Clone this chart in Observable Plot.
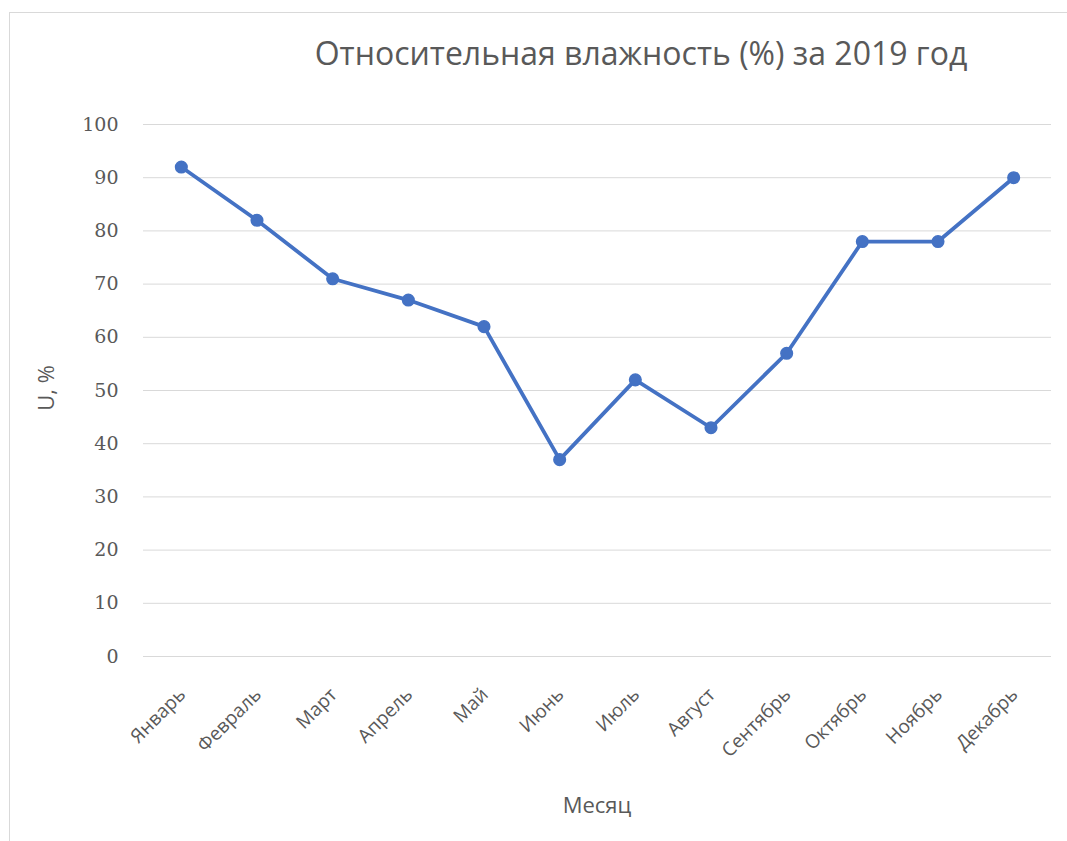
<!DOCTYPE html>
<html>
<head>
<meta charset="utf-8">
<script src="https://cdn.jsdelivr.net/npm/d3@7"></script>
<script src="https://cdn.jsdelivr.net/npm/@observablehq/plot@0.6"></script>
<style>
  html, body { margin: 0; padding: 0; background: #fff; overflow: hidden; }
  #frame { position: absolute; left: 9px; top: 12px; width: 1100px; height: 900px; border: 1px solid #d9d9d9; box-sizing: border-box; }
  #title { position: absolute; left: 0; top: 0; width: 1067px; height: 100px; }
  #title div { position: absolute; left: 641px; top: 31px; transform: translateX(-50%); white-space: nowrap;
    font-family: "Open Sans", sans-serif; font-size: 32px; color: #595959; }
  #chart { position: absolute; left: 0; top: 100px; }
</style>
</head>
<body>
<div id="frame"></div>
<div id="title"><div>Относительная влажность (%) за 2019 год</div></div>
<div id="chart"></div>
<script>
const months = ["Январь","Февраль","Март","Апрель","Май","Июнь","Июль","Август","Сентябрь","Октябрь","Ноябрь","Декабрь"];
const humidity = [92, 82, 71, 67, 62, 37, 52, 43, 57, 78, 78, 90];
const yTicks = [0, 10, 20, 30, 40, 50, 60, 70, 80, 90, 100];

const data = months.map((m, i) => ({month: m, value: humidity[i]}));
const color = "#4472C4";

const plot = Plot.plot({
  width: 1067,
  height: 741,
  marginTop: 24,
  marginBottom: 185,
  marginLeft: 143,
  marginRight: 16,
  style: {background: "transparent", overflow: "visible"},
  x: {type: "point", domain: months, padding: 0.5, round: false, label: null},
  y: {domain: [0, 100], ticks: yTicks, label: null},
  marks: [
    Plot.gridY(yTicks, {stroke: "#d9d9d9", strokeOpacity: 1, strokeWidth: 1}),
    Plot.axisY(yTicks, {tickSize: 0, tickPadding: 25, fontSize: 19, fontFamily: "DejaVu Serif", fill: "#595959", label: null}),
    Plot.axisX({tickSize: 0, tickRotate: -45, tickPadding: 35, dx: 1, fontSize: 19, fontFamily: "Open Sans", fill: "#595959", label: null}),
    Plot.line(data, {x: "month", y: "value", stroke: color, strokeWidth: 3.8}),
    Plot.dot(data, {x: "month", y: "value", r: 5.8, fill: color, stroke: color})
  ]
});
document.getElementById("chart").appendChild(plot);

const svg = d3.select(plot);
svg.append("text")
  .attr("x", 597).attr("y", 713)
  .attr("text-anchor", "middle")
  .attr("font-family", "Open Sans").attr("font-size", 22).attr("fill", "#595959")
  .text("Месяц");
svg.append("text")
  .attr("transform", "translate(54,288) rotate(-90)")
  .attr("text-anchor", "middle")
  .attr("font-family", "Open Sans").attr("font-size", 22).attr("fill", "#595959")
  .text("U, %");
</script>
</body>
</html>
